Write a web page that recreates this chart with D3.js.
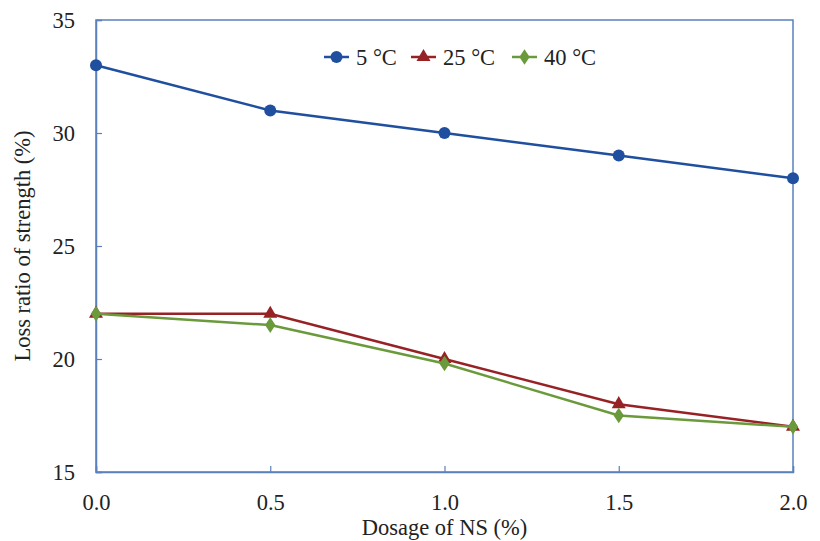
<!DOCTYPE html>
<html>
<head>
<meta charset="utf-8">
<script src="https://cdn.jsdelivr.net/npm/d3@7"></script>
<style>
  body { margin: 0; background: #fff; }
</style>
</head>
<body>
<svg id="chart" width="820" height="541"></svg>
<script>
// Dosage of nano-silica (%) on the x axis
const dosage = [0.0, 0.5, 1.0, 1.5, 2.0];
const xTicks = [0.0, 0.5, 1.0, 1.5, 2.0];
const yTicks = [15, 20, 25, 30, 35];

// Loss ratio of strength (%) at each curing temperature
const loss5 = [33, 31, 30, 29, 28];
const loss25 = [22, 22, 20, 18, 17];
const loss40 = [22, 21.5, 19.8, 17.5, 17];

const seriesNames = ["5 °C", "25 °C", "40 °C"];
const seriesColors = ["#1f4f9e", "#972226", "#6a9a3b"];
const seriesMarkers = ["circle", "triangle", "diamond"];
const seriesValues = [loss5, loss25, loss40];

const FONT = "'Liberation Serif', 'Times New Roman', serif";
const FS = "22.5px";

const svg = d3.select("#chart");
const m = { left: 96, right: 27, top: 20, bottom: 69 };
const W = 820, H = 541;
const x = d3.scaleLinear().domain([0, 2]).range([m.left, W - m.right]);
const y = d3.scaleLinear().domain([15, 35]).range([H - m.bottom, m.top]);

const axisColor = "#5a80bd";

// Plot frame
svg.append("rect")
  .attr("x", x(0)).attr("y", y(35))
  .attr("width", x(2) - x(0)).attr("height", y(15) - y(35))
  .attr("fill", "none").attr("stroke", axisColor).attr("stroke-width", 1.5);

// Axes with inward ticks
const xAxis = svg.append("g").attr("transform", `translate(0,${y(15)})`)
  .call(d3.axisBottom(x).tickValues(xTicks).tickSize(-6).tickPadding(22).tickFormat(d3.format(".1f")));
const yAxis = svg.append("g").attr("transform", `translate(${x(0)},0)`)
  .call(d3.axisLeft(y).tickValues(yTicks).tickSize(-6).tickPadding(21).tickFormat(d3.format("d")));
[xAxis, yAxis].forEach(g => {
  g.attr("font-family", null).attr("font-size", null);
  g.select(".domain").attr("stroke", axisColor).attr("stroke-width", 1.5);
  g.selectAll(".tick line").attr("stroke", axisColor).attr("stroke-width", 1.2);
  g.selectAll(".tick text")
    .style("font-family", FONT).style("font-size", FS).attr("fill", "#222");
});
xAxis.selectAll(".tick text").attr("dy", "0.71em");

// Axis titles
svg.append("text").attr("x", x(1)).attr("y", 535)
  .attr("text-anchor", "middle")
  .style("font-family", FONT).style("font-size", FS).attr("fill", "#222")
  .text("Dosage of NS (%)");
svg.append("text")
  .attr("transform", `translate(30,${(y(15) + y(35)) / 2}) rotate(-90)`)
  .attr("text-anchor", "middle")
  .style("font-family", FONT).style("font-size", FS).attr("fill", "#222")
  .text("Loss ratio of strength (%)");

function marker(sel, type, color) {
  if (type === "circle") {
    sel.append("circle").attr("r", 6).attr("fill", color);
  } else if (type === "triangle") {
    sel.append("path").attr("d", d3.symbol(d3.symbolTriangle, 85)()).attr("fill", color);
  } else {
    sel.append("path").attr("d", d3.symbol(d3.symbolDiamond, 70)()).attr("fill", color)
      .attr("transform", "scale(1.15,1)");
  }
}

const line = d3.line().x((d, i) => x(dosage[i])).y(d => y(d));

seriesValues.forEach((vals, k) => {
  svg.append("path").datum(vals)
    .attr("d", line).attr("fill", "none")
    .attr("stroke", seriesColors[k]).attr("stroke-width", 2.5);
  vals.forEach((v, i) => {
    const g = svg.append("g").attr("transform", `translate(${x(dosage[i])},${y(v)})`);
    marker(g, seriesMarkers[k], seriesColors[k]);
  });
});

// Legend
const legendX = [324, 411, 512];
seriesNames.forEach((name, k) => {
  const g = svg.append("g").attr("transform", `translate(${legendX[k]},57)`);
  g.append("line").attr("x1", 0).attr("x2", 25)
    .attr("stroke", seriesColors[k]).attr("stroke-width", 2.5);
  const mg = g.append("g").attr("transform", "translate(12.5,0)");
  marker(mg, seriesMarkers[k], seriesColors[k]);
  g.append("text").attr("x", 32).attr("y", 0).attr("dy", "0.35em")
    .style("font-family", FONT).style("font-size", FS).attr("fill", "#222")
    .text(name);
});
</script>
</body>
</html>
